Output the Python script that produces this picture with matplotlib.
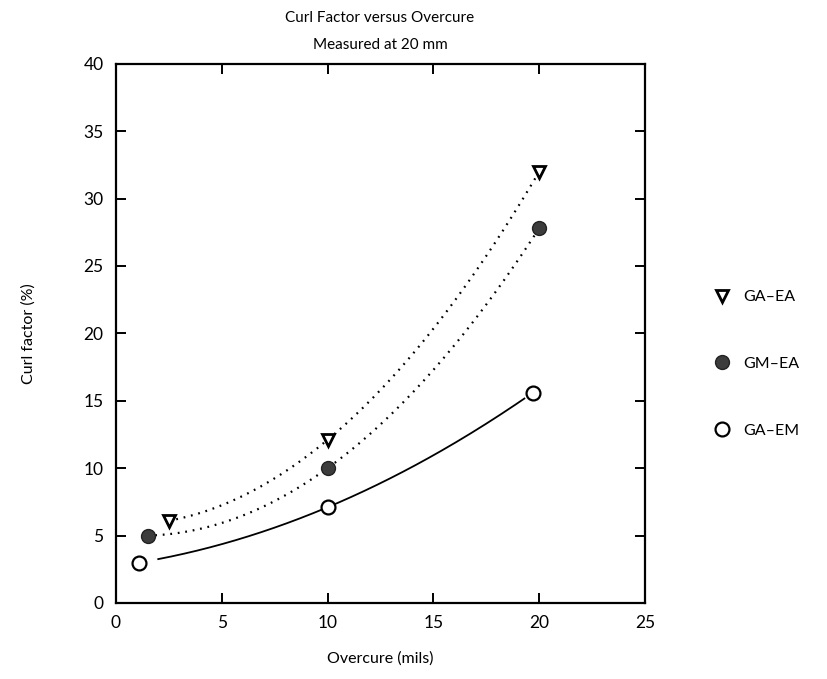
import numpy as np
import matplotlib.pyplot as plt

plt.rcParams['font.family'] = ['Lato', 'DejaVu Sans']

# overcure (mils) vs curl factor (%) for the three material pairs
ga_ea_x = [2.5, 10, 20]
ga_ea_y = [6.1, 12.1, 32.0]
gm_ea_x = [1.5, 10, 20]
gm_ea_y = [5.0, 10.0, 27.8]
ga_em_x = [1.1, 10, 19.7]
ga_em_y = [3.0, 7.1, 15.6]

labels = ['GA\u2013EA', 'GM\u2013EA', 'GA\u2013EM']
x_ticks = [0, 5, 10, 15, 20, 25]
y_ticks = [0, 5, 10, 15, 20, 25, 30, 35, 40]


def fit_curve(xs, ys, start_pad=0.0, end_pad=0.0):
    # smooth quadratic trend through the measured points
    coef = np.polyfit(xs, ys, 2)
    xx = np.linspace(xs[0] + start_pad, xs[-1] - end_pad, 200)
    return xx, np.polyval(coef, xx)


fig = plt.figure(figsize=(8.28, 6.79), dpi=100)
ax = fig.add_axes([0.140, 0.112, 0.639, 0.794])

dots = (0, (0.8, 2.6))
xx, yy = fit_curve(ga_ea_x, ga_ea_y)
ax.plot(xx, yy, color='black', linestyle=dots, linewidth=1.6, zorder=2)
xx, yy = fit_curve(gm_ea_x, gm_ea_y)
ax.plot(xx, yy, color='black', linestyle=dots, linewidth=1.6, zorder=2)
xx, yy = fit_curve(ga_em_x, ga_em_y, start_pad=0.9, end_pad=0.4)
ax.plot(xx, yy, color='black', linestyle='-', linewidth=1.3, zorder=2)

h1, = ax.plot(ga_ea_x, ga_ea_y, linestyle='none', marker='v', markersize=9,
              markerfacecolor='white', markeredgecolor='black',
              markeredgewidth=2.0, zorder=3, label=labels[0])
h2, = ax.plot(gm_ea_x, gm_ea_y, linestyle='none', marker='o', markersize=10,
              markerfacecolor='#3c3c3c', markeredgecolor='#222222',
              markeredgewidth=1.0, zorder=3, label=labels[1])
h3, = ax.plot(ga_em_x, ga_em_y, linestyle='none', marker='o', markersize=10,
              markerfacecolor='white', markeredgecolor='black',
              markeredgewidth=1.6, zorder=3, label=labels[2])

ax.set_xlim(0, 25)
ax.set_ylim(0, 40)
ax.set_xticks(x_ticks)
ax.set_yticks(y_ticks)
ax.tick_params(direction='in', length=7, width=1.4, top=True, right=True,
               labelsize=12.5, pad=9)
for side in ax.spines.values():
    side.set_linewidth(1.6)

ax.set_xlabel('Overcure (mils)', fontsize=11.5, labelpad=14)
ax.set_ylabel('Curl factor (%)', fontsize=11.5, labelpad=34)

fig.text(0.459, 0.974, 'Curl Factor versus Overcure', ha='center', va='center', fontsize=11)
fig.text(0.459, 0.934, 'Measured at 20 mm', ha='center', va='center', fontsize=11)

fig.legend(handles=[h1, h2, h3], loc='center left', bbox_to_anchor=(0.845, 0.464),
           frameon=False, fontsize=11.5, labelspacing=3.3, handlelength=1.0,
           handletextpad=0.8)

fig.savefig('out.png', dpi=100)
